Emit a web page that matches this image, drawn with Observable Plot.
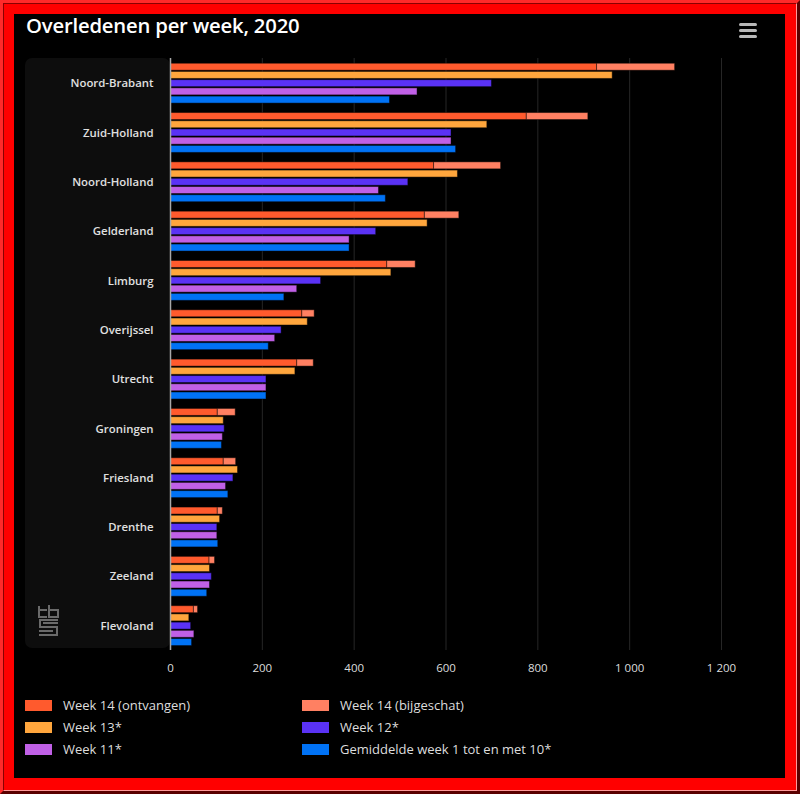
<!DOCTYPE html>
<html>
<head>
<meta charset="utf-8">
<script src="https://cdn.jsdelivr.net/npm/d3@7"></script>
<script src="https://cdn.jsdelivr.net/npm/@observablehq/plot@0.6"></script>
<style>
  html, body { margin: 0; padding: 0; background: #000; }
  #frame { position: absolute; left: 0; top: 0; width: 800px; height: 794px; box-sizing: border-box;
    border: 3px solid; border-color: #ff2a2a #5a0000 #5a0000 #ff2a2a; }
  #frame2 { position: absolute; inset: 0; border: 1px solid; border-color: #8a0000 #ff9a9a #ff9a9a #8a0000; }
  #frame3 { position: absolute; inset: 0; border: 10px solid #ff0000; border-bottom-width: 12px; border-right-width: 11px; background: #000; }
  #chart { position: absolute; left: -14px; top: -14px; width: 800px; height: 794px; font-family: "Open Sans", sans-serif; }
  #title { position: absolute; left: 26px; top: 11px; color: #fff; font-size: 20.3px; font-weight: 600; letter-spacing: -0.2px; }
  #menu { position: absolute; left: 739px; top: 23px; width: 18px; }
  #menu div { height: 3px; background: #b8b8b8; border-radius: 1.5px; margin-bottom: 3px; }
  #panel { position: absolute; left: 25px; top: 58px; width: 145px; height: 590px; background: #0d0d0d; border-radius: 7px; }
  #logo { position: absolute; left: 37px; top: 604px; }
  #plot { position: absolute; left: 0; top: 0; }
  #legend { position: absolute; left: 25px; top: 696px; width: 600px; color: #ddd; font-size: 13px; }
  .item { position: absolute; display: flex; align-items: center; white-space: nowrap; }
  .sw { width: 27px; height: 11px; margin-right: 11px; }
</style>
</head>
<body>
<div id="frame"><div id="frame2"><div id="frame3"><div id="chart">
  <div id="title">Overledenen per week, 2020</div>
  <div id="menu"><div></div><div></div><div></div></div>
  <div id="panel"></div>
  <svg id="logo" width="24" height="34" viewBox="0 0 24 34" fill="none" stroke="#6a6a6a" stroke-width="2">
    <path d="M2 2 V13 H10 M10 6 H3 M12 1 V13 H21 V6 H13"/>
    <path d="M21 16 H3 V23 H20 V31 H2 M6 19 H21 M2 27 H16"/>
  </svg>
  <div id="plot"></div>
  <div id="legend"></div>
</div></div></div></div>
<script>
const provinces = ["Noord-Brabant", "Zuid-Holland", "Noord-Holland", "Gelderland", "Limburg", "Overijssel",
  "Utrecht", "Groningen", "Friesland", "Drenthe", "Zeeland", "Flevoland"];
const week14Ontvangen = [929, 776, 574, 554, 472, 287, 276, 103, 116, 103, 85, 51];
const week14Bijgeschat = [170, 134, 146, 75, 62, 27, 36, 39, 27, 11, 12, 9];
const week13 = [963, 690, 626, 560, 481, 299, 272, 116, 147, 108, 86, 41];
const week12 = [700, 612, 518, 448, 328, 242, 209, 118, 137, 102, 90, 45];
const week11 = [538, 612, 454, 390, 276, 228, 209, 114, 121, 102, 86, 52];
const gemiddelde = [478, 622, 469, 390, 248, 214, 209, 112, 126, 104, 80, 47];

const seriesNames = ["Week 14 (ontvangen)", "Week 14 (bijgeschat)", "Week 13*", "Week 12*", "Week 11*", "Gemiddelde week 1 tot en met 10*"];
const seriesColors = ["#ff5a2d", "#ff8062", "#ffa63d", "#5a32f5", "#c060e6", "#0072f5"];
const xTicks = [0, 200, 400, 600, 800, 1000, 1200];

const slots = ["w14", "w13", "w12", "w11", "avg", "gap"];
const yDomain = provinces.flatMap(p => slots.map(s => p + "|" + s));

const w14 = [];
provinces.forEach((p, i) => {
  w14.push({key: p + "|w14", series: seriesNames[0], value: week14Ontvangen[i]});
  w14.push({key: p + "|w14", series: seriesNames[1], value: week14Bijgeschat[i]});
});
const others = [];
provinces.forEach((p, i) => {
  others.push({key: p + "|w13", series: seriesNames[2], value: week13[i]});
  others.push({key: p + "|w12", series: seriesNames[3], value: week12[i]});
  others.push({key: p + "|w11", series: seriesNames[4], value: week11[i]});
  others.push({key: p + "|avg", series: seriesNames[5], value: gemiddelde[i]});
});

const fmt = d3.formatLocale({decimal: ",", thousands: "\u00a0", grouping: [3], currency: ["", ""]}).format(",");

const chart = Plot.plot({
  width: 800,
  height: 690,
  marginLeft: 170,
  marginRight: 79,
  marginTop: 62,
  marginBottom: 35,
  style: {background: "transparent", color: "#ddd", fontFamily: "Open Sans, sans-serif", fontSize: "11.5px"},
  x: {domain: [0, 1200], axis: null, label: null},
  y: {domain: yDomain, padding: 0.15, round: false, axis: null, label: null},
  color: {domain: seriesNames, range: seriesColors},
  marks: [
    Plot.ruleX(xTicks.slice(1), {stroke: "#262626", strokeWidth: 1, insetTop: -4, insetBottom: 5}),
    Plot.barX(w14, Plot.stackX({x: "value", y: "key", fill: "series", stroke: "#000", strokeOpacity: 0.45, strokeWidth: 1})),
    Plot.barX(others, {x: "value", y: "key", fill: "series", stroke: "#000", strokeOpacity: 0.45, strokeWidth: 1}),
    Plot.ruleX([0], {stroke: "#a8a8a8", strokeWidth: 1.5, insetTop: -4, insetBottom: 5}),
    Plot.text(provinces, {x: 0, y: p => p + "|w12", text: d => d, textAnchor: "end", dx: -17, fill: "#e0e0e0", fontSize: 11.4, fontWeight: 600}),
    Plot.axisX({ticks: xTicks, tickFormat: fmt, tickSize: 0, tickPadding: 8, fill: "#ddd", fontSize: 11.5, label: null})
  ]
});
document.getElementById("plot").appendChild(chart);

const legend = document.getElementById("legend");
const legendPos = [[0, 0], [277, 0], [0, 22], [277, 22], [0, 44], [277, 44]];
seriesNames.forEach((name, k) => {
  const it = document.createElement("div");
  it.className = "item";
  it.style.left = legendPos[k][0] + "px";
  it.style.top = legendPos[k][1] + "px";
  it.innerHTML = `<div class="sw" style="background:${seriesColors[k]}"></div><span>${name}</span>`;
  legend.appendChild(it);
});
</script>
</body>
</html>
